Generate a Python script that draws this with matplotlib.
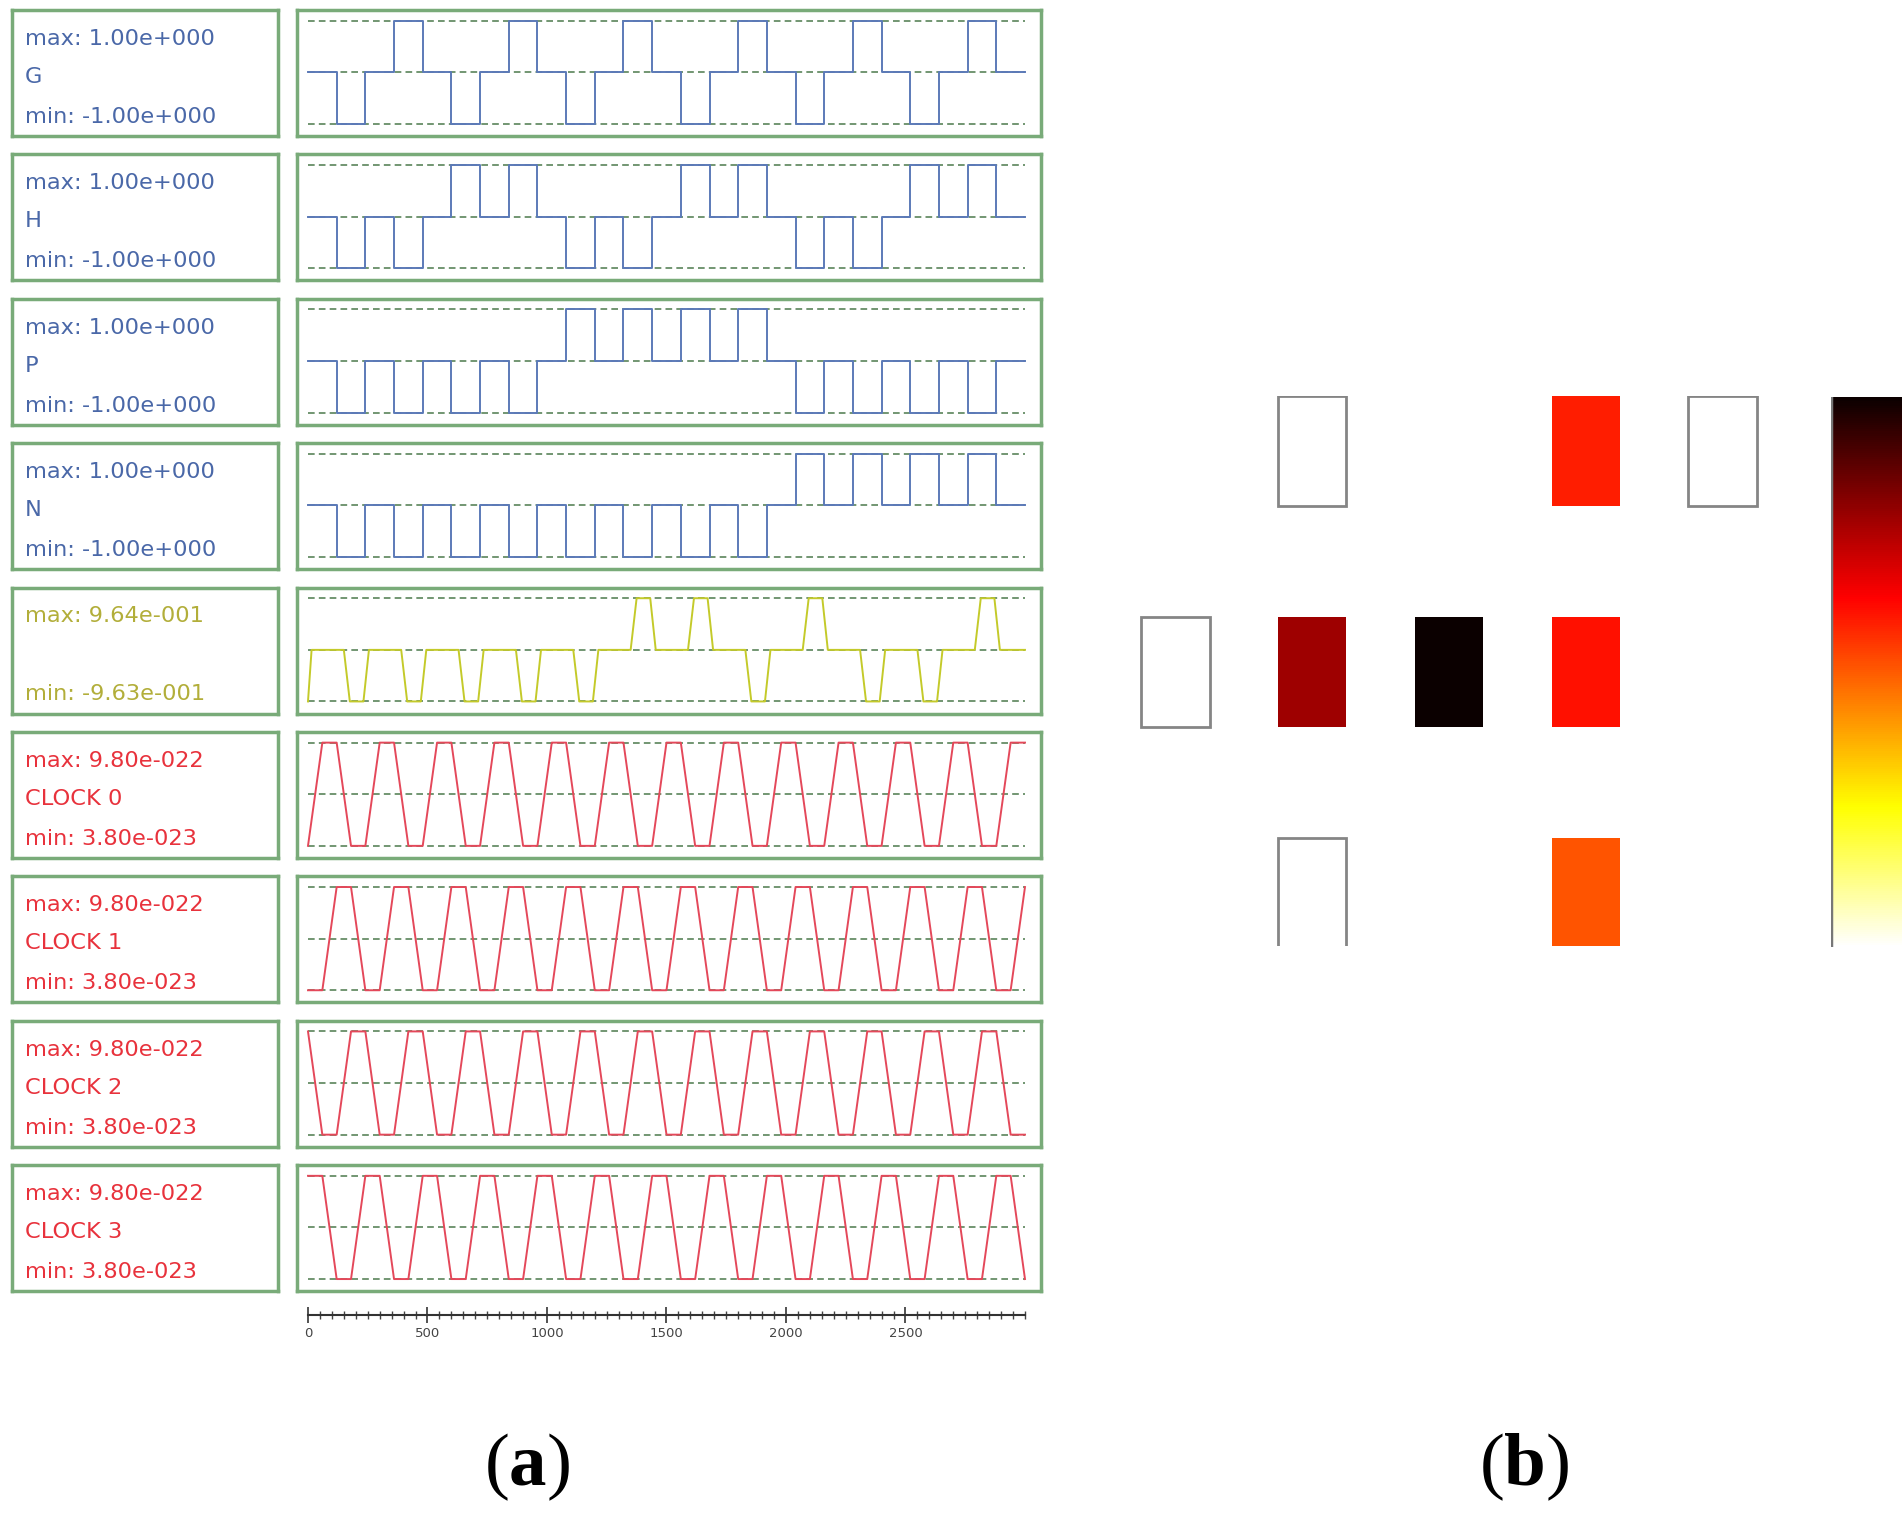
import matplotlib
matplotlib.use("Agg")
import matplotlib.pyplot as plt
import numpy as np
from matplotlib.cm import ScalarMappable
from matplotlib.colors import Normalize

plt.rcParams["mathtext.fontset"] = "custom"
plt.rcParams["mathtext.rm"] = "Liberation Serif"
plt.rcParams["mathtext.bf"] = "Liberation Serif:bold"

# ---- data ----
SLOT = 120          # width of one input slot (time units)
T_END = 3000

# sign of each input pulse, pulses sit in the odd slots 1,3,...,23
G_PULSES = [-1, 1, -1, 1, -1, 1, -1, 1, -1, 1, -1, 1]
H_PULSES = [-1, -1, 1, 1, -1, -1, 1, 1, -1, -1, 1, 1]
P_PULSES = [-1, -1, -1, -1, 1, 1, 1, 1, -1, -1, -1, -1]
N_PULSES = [-1, -1, -1, -1, -1, -1, -1, -1, 1, 1, 1, 1]

# output cell (yellow trace)
OUT_PULSES = [-1, -1, -1, -1, -1, 1, 1, -1, 1, -1, -1, 1]
OUT_MAX = 9.64e-1
OUT_MIN = -9.63e-1
OUT_EDGES = [30, 55, 112, 135]   # fall start, low reached, rise start, back to 0 (inside slot)

# clocks, level at every 60 time units (0 = low, 1 = high)
CLK_STEP = 60
CLK_MAX = 9.80e-22
CLK_MIN = 3.80e-23
CLOCK_LEVELS = [
    "0110" "0110" "0110" "0110" "0110" "0110" "0110" "0110" "0110" "0110" "0110" "0110" "011",
    "0011" "0011" "0011" "0011" "0011" "0011" "0011" "0011" "0011" "0011" "0011" "0011" "001",
    "1001" "1001" "1001" "1001" "1001" "1001" "1001" "1001" "1001" "1001" "1001" "1001" "100",
    "1100" "1100" "1100" "1100" "1100" "1100" "1100" "1100" "1100" "1100" "1100" "1100" "110",
]

X_TICKS = [0, 500, 1000, 1500, 2000, 2500]

# (b) cells: row, column, value (nan = empty cell, drawn as outline)
CELL_ROW = [0, 0, 0, 1, 1, 1, 1, 2, 2]
CELL_COL = [1, 3, 4, 0, 1, 2, 3, 1, 3]
CELL_VAL = [np.nan, 0.59, np.nan, np.nan, 0.78, 1.0, 0.61, np.nan, 0.51]

BLUE_TXT, BLUE_LINE = "#4a68a8", "#5c7ab8"
YEL_TXT, YEL_LINE = "#b2ae3a", "#c4ca2a"
RED_TXT, RED_LINE = "#e8323c", "#e4485a"
FRAME = "#79ab79"
DASH = "#5a845a"

W, H = 1902, 1524
fig = plt.figure(figsize=(W / 100, H / 100), dpi=100)
fig.patch.set_facecolor("white")


def box(x0, y0, x1, y1):
    # pixel box, origin top left -> figure fraction
    return [x0 / W, 1 - y1 / H, (x1 - x0) / W, (y1 - y0) / H]


def digital(pulses):
    lv = np.zeros(2 * len(pulses) + 1)
    lv[1::2] = pulses
    t = np.arange(len(lv) + 1) * SLOT
    return t, np.append(lv, lv[-1])


def output_trace():
    t = [0, 15]
    v = [OUT_MIN, 0]
    for i, s in enumerate(OUT_PULSES):
        t0 = (2 * i + 1) * SLOT
        lvl = OUT_MAX if s > 0 else OUT_MIN
        t += [t0 + e for e in OUT_EDGES]
        v += [0, lvl, lvl, 0]
    t.append(T_END)
    v.append(0)
    return np.array(t), np.array(v)


def clock_trace(levels):
    lv = np.array([int(c) for c in levels])
    t = np.arange(len(lv)) * CLK_STEP
    return t, CLK_MIN + lv * (CLK_MAX - CLK_MIN)


rows = []
for name, p in zip(["G", "H", "P", "N"], [G_PULSES, H_PULSES, P_PULSES, N_PULSES]):
    t, v = digital(p)
    rows.append(("max: 1.00e+000", name, "min: -1.00e+000", BLUE_TXT, BLUE_LINE, t, v, -1, 1, True))
t, v = output_trace()
rows.append(("max: 9.64e-001", "", "min: -9.63e-001", YEL_TXT, YEL_LINE, t, v, OUT_MIN, OUT_MAX, False))
for i, lev in enumerate(CLOCK_LEVELS):
    t, v = clock_trace(lev)
    rows.append(("max: 9.80e-022", "CLOCK %d" % i, "min: 3.80e-023", RED_TXT, RED_LINE, t, v,
                 CLK_MIN, CLK_MAX, False))

ROW_TOP, ROW_PITCH, ROW_H = 10, 144.4, 126
LBL_X0, LBL_X1 = 12, 278
PLT_X0, PLT_X1 = 297, 1041
XLIM = (-46, 3067)

for k, (mx, nm, mn, tc, lc, t, v, lo, hi, is_step) in enumerate(rows):
    top = ROW_TOP + k * ROW_PITCH
    bot = top + ROW_H

    la = fig.add_axes(box(LBL_X0, top, LBL_X1, bot))
    la.set_xticks([])
    la.set_yticks([])
    for s in la.spines.values():
        s.set_color(FRAME)
        s.set_linewidth(2.5)
    for txt, yy in [(mx, 0.772), (nm, 0.47), (mn, 0.153)]:
        la.text(0.048, yy, txt, transform=la.transAxes, color=tc, fontsize=16.2,
                va="center", ha="left", family="DejaVu Sans")

    pa = fig.add_axes(box(PLT_X0, top, PLT_X1, bot))
    pa.set_xticks([])
    pa.set_yticks([])
    for s in pa.spines.values():
        s.set_color(FRAME)
        s.set_linewidth(2.5)
    rng = hi - lo
    pa.set_xlim(*XLIM)
    pa.set_ylim(lo - 12 / 102 * rng, hi + 10.5 / 102 * rng)
    pa.hlines([lo, (lo + hi) / 2, hi], 0, T_END, colors=DASH, linewidth=1.2,
              linestyles=(0, (4, 2.5)), zorder=1)
    if is_step:
        pa.step(t, v, where="post", color=lc, linewidth=1.4, zorder=2)
    else:
        pa.plot(t, v, color=lc, linewidth=1.4, zorder=2)

# time ruler under the traces
ra = fig.add_axes(box(PLT_X0, 1290, PLT_X1, 1315))
ra.set_xlim(*XLIM)
ra.set_yticks([])
for side in ["top", "left", "right"]:
    ra.spines[side].set_visible(False)
ra.spines["bottom"].set_bounds(0, T_END)
ra.spines["bottom"].set_color("#333333")
ra.spines["bottom"].set_linewidth(1.5)
ra.set_facecolor("none")
ra.set_xticks(X_TICKS)
ra.set_xticklabels([str(x) for x in X_TICKS])
ra.set_xticks(np.arange(0, T_END + 1, 50), minor=True)
ra.tick_params(axis="x", which="major", direction="inout", length=11, width=1.3,
               colors="#444444", labelsize=9.5, pad=3)
ra.tick_params(axis="x", which="minor", direction="inout", length=6, width=1.0, colors="#444444")

# (b) cell layout
ba = fig.add_axes(box(1107, 396, 1791, 946))
ba.set_xlim(-0.5, 4.5)
ba.set_ylim(2.24, -0.25)
ba.axis("off")
cmap = plt.get_cmap("hot_r")
norm = Normalize(0, 1)
for r, c, val in zip(CELL_ROW, CELL_COL, CELL_VAL):
    if np.isnan(val):
        ba.bar(c, 0.5, bottom=r - 0.25, width=0.5, color="white", edgecolor="#858585", linewidth=2)
    else:
        ba.bar(c, 0.5, bottom=r - 0.25, width=0.5, color=cmap(norm(val)), edgecolor="none")

ca = fig.add_axes(box(1831, 397, 1902, 947))
cb = fig.colorbar(ScalarMappable(norm=norm, cmap=cmap), cax=ca)
cb.outline.set_visible(False)
cb.set_ticks([])
ca.axvline(0, color="#777777", linewidth=2.5)

fig.text(527 / W, 1 - 1467 / H, r"($\mathbf{a}$)", fontsize=54, family="Liberation Serif",
         ha="center", va="center")
fig.text(1524 / W, 1 - 1467 / H, r"($\mathbf{b}$)", fontsize=54, family="Liberation Serif",
         ha="center", va="center")

fig.savefig("out.png", dpi=100, facecolor="white")
